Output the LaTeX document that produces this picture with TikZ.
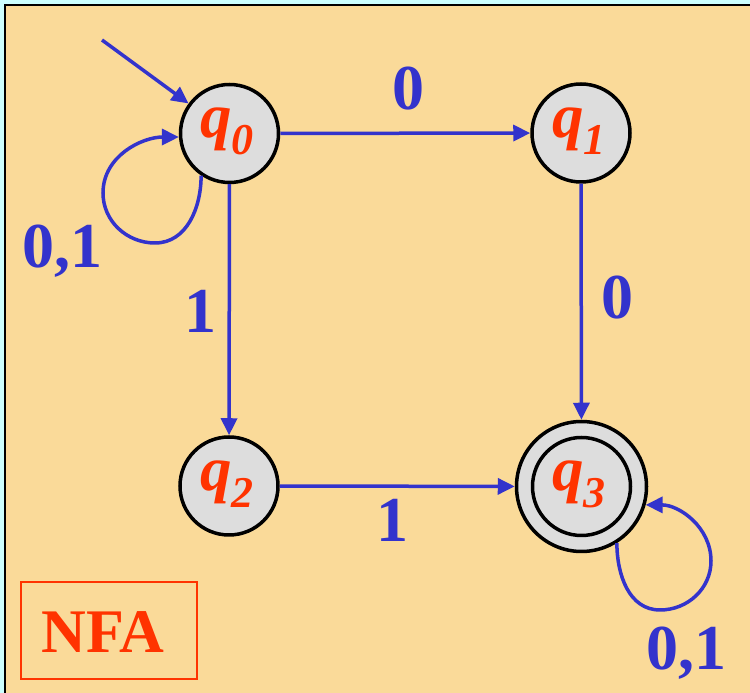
\documentclass[tikz,border=0pt]{standalone}
\usepackage{fontspec}
\setmainfont{Liberation Serif}
\usetikzlibrary{arrows.meta}
\definecolor{bgor}{RGB}{250,218,153}
\definecolor{bgcy}{RGB}{204,255,255}
\definecolor{eblue}{RGB}{51,51,204}
\definecolor{sred}{RGB}{255,51,0}
\definecolor{sgray}{RGB}{221,221,221}
\newcommand{\stl}[1]{{\fontsize{63}{63}\selectfont\bfseries\itshape q}\raisebox{-17pt}{\fontsize{44}{44}\selectfont\bfseries\itshape #1}}
\begin{document}
\begin{tikzpicture}[x=1pt,y=1pt,
  state/.style={circle,draw=black,line width=3.5pt,fill=sgray,minimum size=98pt,inner sep=0pt,text=sred},
  edge/.style={draw=eblue,line width=3.5pt,-{Triangle[length=17pt,width=16pt]}},
  elab/.style={text=eblue,font=\fontsize{64}{64}\selectfont\bfseries,anchor=base,inner sep=0pt}]
\useasboundingbox (0,0) rectangle (750,693);
\fill[bgcy] (0,0) rectangle (750,693);
\fill[bgor] (5,0) rectangle (750,688);
\draw[black,line width=2.5pt] (5,0) -- (5,688) -- (750,688);
% states
\node[state] (q0) at (229.5,559.5) {};
\node[state] (q1) at (581,560) {};
\node[state] (q2) at (229,207) {};
\node[state,minimum size=130pt] (q3) at (581.5,206.5) {};
\node[state] (q3i) at (581.5,206.5) {};
\node[text=sred,inner sep=0pt] (t0) at (227,562) {\stl{0}};
\node[text=sred,inner sep=0pt] (t1) at (579,562) {\stl{1}};
\node[text=sred,inner sep=0pt] (t2) at (227,209) {\stl{2}};
\node[text=sred,inner sep=0pt] (t3) at (579,209) {\stl{3}};
% start
\coordinate (st) at (102,653);
\draw[edge] (st) -- (q0);
% edges
\draw[edge] (q0) -- (q1);
\draw[edge] (q1) -- (q3);
\draw[edge] (q0) -- (q2);
\draw[edge] (q2) -- (q3);
% loops
\draw[edge] (q0.236) to[out=-90,in=0] (155,450) to[out=180,in=-90] (103,500) to[out=90,in=180] (q0.184);
\draw[edge] (q3.-58) to[out=-90,in=180] (660,83) to[out=0,in=-90] (711,132) to[out=90,in=0] (q3.-16);
% labels
\node[elab] (l01) at (408,583) {0};
\node[elab] (l13) at (617,374) {0};
\node[elab] (l02) at (200,360) {1};
\node[elab] (l23) at (392,151) {1};
\node[elab] (l00) at (62.5,425) {0,1};
\node[elab] (l33) at (686,23) {0,1};
% NFA box
\node[draw=sred,line width=1.6pt,minimum width=176pt,minimum height=97pt,inner sep=0pt] (nfa) at (109,62.5) {};
\node[text=sred,inner sep=0pt,font=\fontsize{62}{62}\selectfont\bfseries,anchor=base] (nfat) at (103,40) {NFA};
\end{tikzpicture}
\end{document}
